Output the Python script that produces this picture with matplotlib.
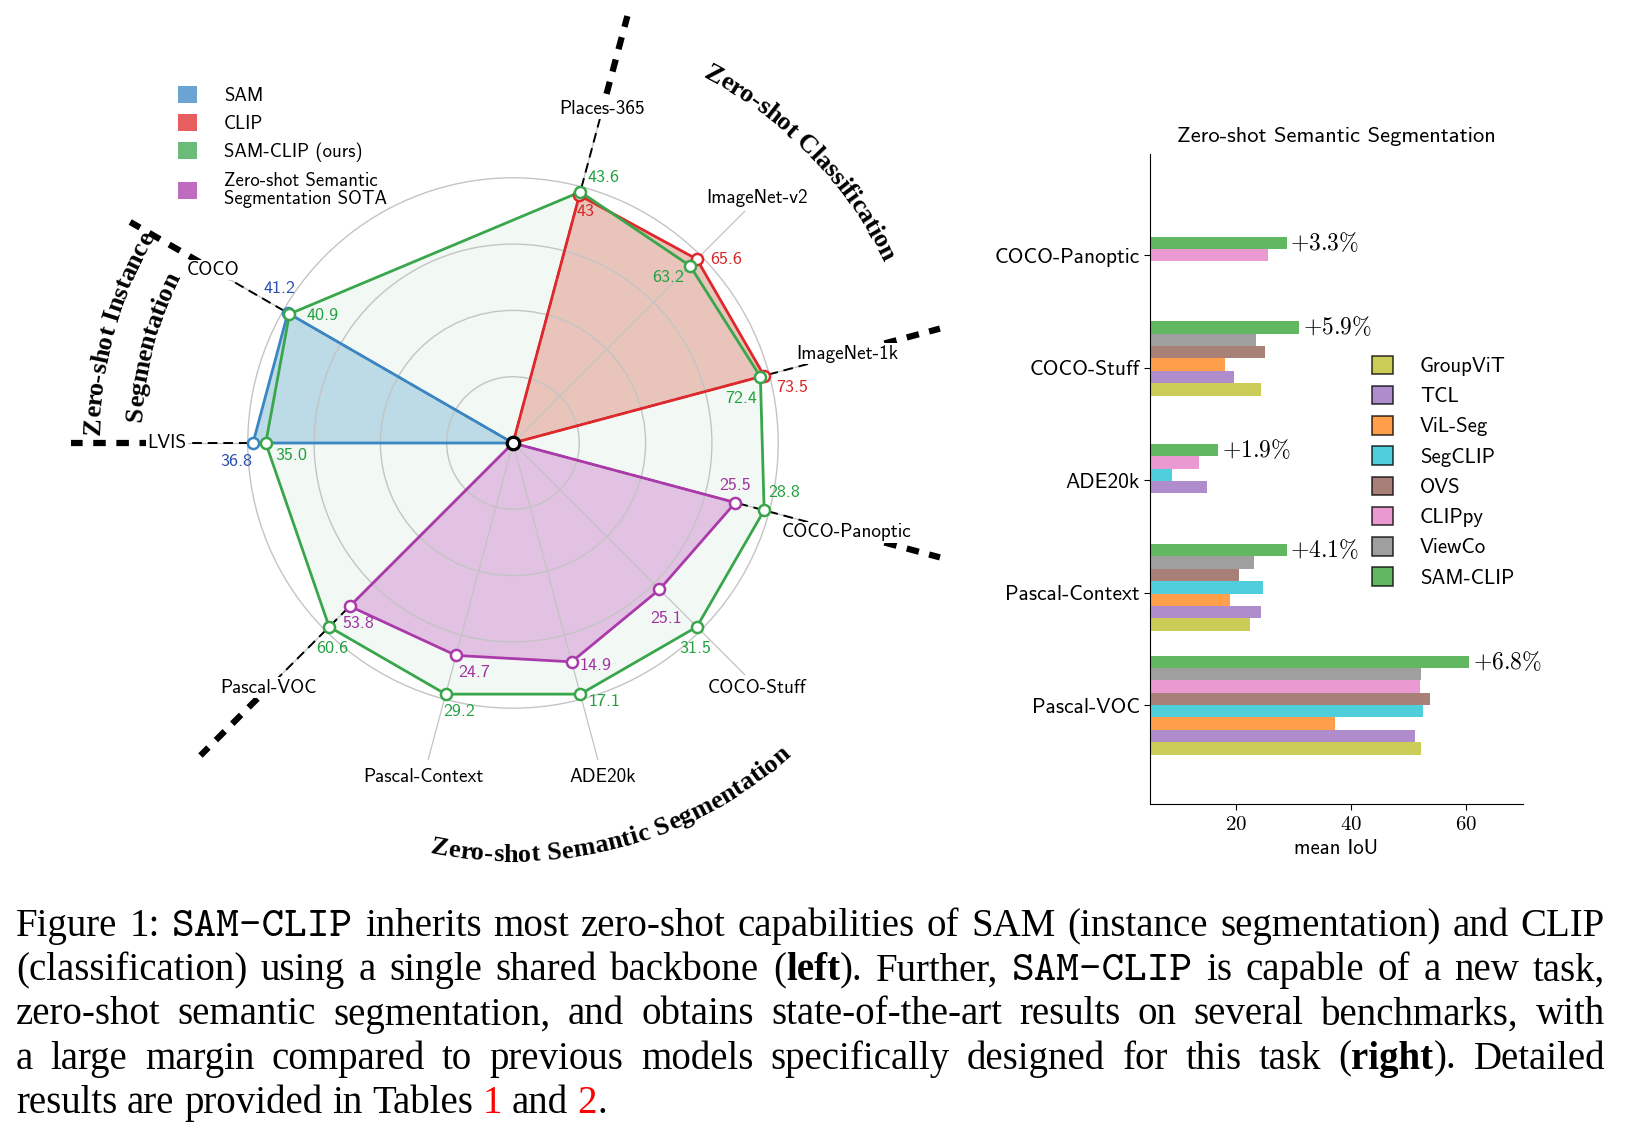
import numpy as np
import matplotlib
matplotlib.use('Agg')
import matplotlib.pyplot as plt
from matplotlib.patches import Patch, Polygon, Circle
from matplotlib.font_manager import FontProperties
from matplotlib.textpath import TextToPath
from matplotlib.transforms import IdentityTransform

plt.rcParams['mathtext.fontset'] = 'cm'
plt.rcParams['axes.unicode_minus'] = False

SANS = ['cmss10', 'DejaVu Sans']
SERIF = ['Liberation Serif', 'DejaVu Serif']
MONO = ['cmtt10', 'DejaVu Sans Mono']

W, H, DPI = 1626, 1132, 100

# ---------------- radar data ----------------
radar_labels = ['Places-365', 'ImageNet-v2', 'ImageNet-1k', 'COCO-Panoptic', 'COCO-Stuff',
                'ADE20k', 'Pascal-Context', 'Pascal-VOC', 'LVIS', 'COCO']
radar_angles = [75, 45, 15, -15, -45, -75, -105, -135, 180, 150]
sam_vals = [None, None, None, None, None, None, None, None, 36.8, 41.2]
clip_vals = [43, 65.6, 73.5, None, None, None, None, None, None, None]
samclip_vals = [43.6, 63.2, 72.4, 28.8, 31.5, 17.1, 29.2, 60.6, 35.0, 40.9]
sota_vals = [None, None, None, 25.5, 25.1, 14.9, 24.7, 53.8, None, None]
separator_axes = [0, 2, 3, 7, 8, 9]

# ---------------- bar data ----------------
bar_datasets = ['Pascal-VOC', 'Pascal-Context', 'ADE20k', 'COCO-Stuff', 'COCO-Panoptic']
bar_methods = ['GroupViT', 'TCL', 'ViL-Seg', 'SegCLIP', 'OVS', 'CLIPpy', 'ViewCo', 'SAM-CLIP']
groupvit = [52.3, 22.5, None, 24.3, None]
tcl = [51.2, 24.3, 14.9, 19.7, None]
vilseg = [37.3, 18.9, None, 18.0, None]
segclip = [52.5, 24.7, 8.8, None, None]
ovs = [53.8, 20.5, None, 25.1, None]
clippy = [52.1, None, 13.5, None, 25.5]
viewco = [52.3, 23.1, None, 23.5, None]
samclip_bar = [60.6, 28.8, 16.9, 31.0, 28.8]
gains = ['+6.8%', '+4.1%', '+1.9%', '+5.9%', '+3.3%']

fig = plt.figure(figsize=(W / DPI, H / DPI), dpi=DPI)

# ================= radar (left) =================
U = 260.0          # pixels per unit radius
cx, cy = 513, 443  # centre in pixels (from top)
px0, px1, py0, py1 = 0, 980, 0, 880
ax = fig.add_axes([px0 / W, 1 - py1 / H, (px1 - px0) / W, (py1 - py0) / H])
ax.set_xlim(-(cx - px0) / U, (px1 - cx) / U)
ax.set_ylim(-(py1 - cy) / U, (cy - py0) / U)
ax.axis('off')

th = np.radians(radar_angles)
allser = [sam_vals, clip_vals, samclip_vals, sota_vals]
vmax = [max(s[i] for s in allser if s[i] is not None) for i in range(len(radar_labels))]


def xy(i, v):
    r = v / vmax[i]
    return r * np.cos(th[i]), r * np.sin(th[i])


# grid
for rr in [0.255, 0.51, 0.765, 1.02]:
    ax.add_patch(Circle((0, 0), rr, fill=False, ec='#c4c4c4', lw=1.0, zorder=2))
for i in range(len(radar_labels)):
    ax.plot([0, 1.26 * np.cos(th[i])], [0, 1.26 * np.sin(th[i])], color='#c4c4c4', lw=0.9, zorder=2)

# group separators
for i in separator_axes:
    c, s = np.cos(th[i]), np.sin(th[i])
    ax.plot([0, 1.37 * c], [0, 1.37 * s], color='black', lw=1.4, ls=(0, (5, 3)), zorder=2.5)
    ax.plot([1.39 * c, 1.70 * c], [1.39 * s, 1.70 * s], color='black', lw=4.5,
            ls=(0, (2, 1.7)), zorder=2.5, solid_capstyle='butt', dash_capstyle='butt')

styles = {
    'samclip': dict(vals=samclip_vals, line='#3aa64c', fill='#f2f9f4', text='#22a040'),
    'sam': dict(vals=sam_vals, line='#3a86c4', fill='#bcdbe6', text='#2a4bb0'),
    'clip': dict(vals=clip_vals, line='#e0282c', fill='#e8c4bb', text='#d62728'),
    'sota': dict(vals=sota_vals, line='#aa3aaa', fill='#e2c2e2', text='#a033a0'),
}

# SAM-CLIP closed polygon
pts = [xy(i, v) for i, v in enumerate(samclip_vals)]
ax.add_patch(Polygon(pts, closed=True, fc=styles['samclip']['fill'], ec='none', zorder=1))
for key in ['sam', 'clip', 'sota']:
    st = styles[key]
    p = [(0, 0)] + [xy(i, v) for i, v in enumerate(st['vals']) if v is not None]
    ax.add_patch(Polygon(p, closed=True, fc=st['fill'], ec='none', zorder=1.5))
    pp = p + [p[0]]
    ax.plot([q[0] for q in pp], [q[1] for q in pp], color=st['line'], lw=2.0, zorder=3)
pp = pts + [pts[0]]
ax.plot([q[0] for q in pp], [q[1] for q in pp], color=styles['samclip']['line'], lw=2.0, zorder=3.5)

# value labels offsets (points)
offsets = {
    'samclip': [(17, 10), (-16, -8.5), (-14, -16), (14.5, 13), (-1.5, -15.5), (17.5, -5.5),
                (9.5, -12.5), (2.5, -15.5), (18.5, -9), (23.5, -0.8)],
    'clip': [(4.5, -11.5), (21, 0), (20.5, -8.5)],
    'sota': [(-0.5, 12), (4.5, -21), (17.5, -2.5), (13, -12), (6, -12.5)],
    'sam': [(-12, -13), (-6, 17.5)],
}
for key in ['sam', 'clip', 'sota', 'samclip']:
    st = styles[key]
    k = 0
    for i, v in enumerate(st['vals']):
        if v is None:
            continue
        x, y = xy(i, v)
        ax.plot(x, y, 'o', mfc='white', mec=st['line'], ms=8, mew=1.8, zorder=5)
        ax.annotate(str(v), (x, y), xytext=offsets[key][k], textcoords='offset points',
                    ha='center', va='center', color=st['text'], fontsize=13, family=SANS, zorder=6)
        k += 1
ax.plot(0, 0, 'o', mfc='white', mec='black', ms=9, mew=2.3, zorder=7)

# axis names
for i, name in enumerate(radar_labels):
    ax.text(1.33 * np.cos(th[i]), 1.33 * np.sin(th[i]), name, ha='center', va='center',
            fontsize=13.8, family=SANS, zorder=6,
            bbox=dict(fc='white', ec='none', pad=1.0))

# curved group titles
t2p = TextToPath()


def arc_text(s, r_base, r_mid, ang_c, fs, outward=True):
    fp = FontProperties(family='Liberation Serif', weight='bold', size=fs)

    def wid(x):
        return t2p.get_text_width_height_descent(x, fp, ismath=False)[0] * DPI / 72 / U

    total = wid(s)
    for i, ch in enumerate(s):
        if ch == ' ':
            continue
        pos = wid(s[:i + 1]) - wid(ch) / 2 - total / 2
        d = pos / r_mid
        if outward:
            a = np.radians(ang_c) - d
            rot = np.degrees(a) - 90
        else:
            a = np.radians(ang_c) + d
            rot = np.degrees(a) + 90
        ax.text(r_base * np.cos(a), r_base * np.sin(a), ch, fontproperties=fp, rotation=rot,
                rotation_mode='anchor', ha='center', va='baseline', zorder=6)


arc_text('Zero-shot Classification', 1.585, 1.62, 44.3, 19, outward=True)
arc_text('Zero-shot Semantic Segmentation', 1.61, 1.575, -74.9, 19, outward=False)
arc_text('Zero-shot Instance', 1.59, 1.625, 164.5, 19, outward=True)
arc_text('Segmentation', 1.43, 1.465, 165.1, 19, outward=True)

# legend
leg_handles = [Patch(fc=styles[k]['line'], alpha=0.75, ec='none') for k in ['sam', 'clip', 'samclip', 'sota']]
leg = ax.legend(leg_handles, ['SAM', 'CLIP', 'SAM-CLIP (ours)', 'Zero-shot Semantic\nSegmentation SOTA'],
                loc='upper left', bbox_to_anchor=(178 / 980, 1 - 86 / 880), frameon=False,
                borderpad=0, borderaxespad=0, handlelength=1.0, handleheight=1.0,
                handletextpad=1.45, labelspacing=0.5, prop=FontProperties(family=SANS, size=13.5))
for t in leg.get_texts():
    t.set_linespacing(1.0)

# ================= bars (right) =================
bx = fig.add_axes([1150 / W, 1 - 804 / H, 373 / W, 650 / H])
method_vals = [groupvit, tcl, vilseg, segclip, ovs, clippy, viewco, samclip_bar]
bar_colors = ['tab:olive', 'tab:purple', 'tab:orange', 'tab:cyan', 'tab:brown',
              'tab:pink', 'tab:gray', 'tab:green']
bh = 0.11
group_shift = [0, 0.42, 0.92, 0.75, 0.5]   # in bar heights, as laid out in the original
for g in range(len(bar_datasets)):
    present = [m for m in range(len(bar_methods)) if method_vals[m][g] is not None]
    n = len(present)
    yc = g + group_shift[g] * bh
    for k, m in enumerate(present):
        bx.barh(yc + (k - (n - 1) / 2) * bh, method_vals[m][g], height=bh,
                color=bar_colors[m], alpha=0.75, lw=0)
    bx.annotate('$' + gains[g].replace('%', r'\%') + '$',
                (samclip_bar[g], yc + (n - 1) / 2 * bh), xytext=(2.5, 0), textcoords='offset points',
                ha='left', va='center', fontsize=17)

bx.set_xlim(5, 70)
bx.set_ylim(-0.88, 4.9)
bx.set_yticks(range(len(bar_datasets)))
bx.set_yticklabels(bar_datasets, family=SANS, fontsize=15.4)
bx.set_xticks([20, 40, 60])
bx.set_xticklabels([r'$20$', r'$40$', r'$60$'], fontsize=15)
bx.spines['top'].set_visible(False)
bx.spines['right'].set_visible(False)
bx.tick_params(length=4, width=0.8)
bx.set_title('Zero-shot Semantic Segmentation', family=SANS, fontsize=16.2, pad=9)
bx.set_xlabel('mean IoU', family=SANS, fontsize=15, labelpad=3)
bar_handles = [Patch(fc=c, alpha=0.75, ec='black', lw=1.2) for c in bar_colors]
bx.legend(bar_handles, bar_methods, loc='upper left', bbox_to_anchor=(0.595, 0.69),
          frameon=False, borderpad=0, borderaxespad=0, handlelength=1.0, handleheight=1.0,
          handletextpad=1.3, labelspacing=0.47, prop=FontProperties(family=SANS, size=15))

# ================= caption =================
CAP_FS = 28
cap_styles = {
    'n': dict(family=SERIF, fontsize=CAP_FS),
    'b': dict(family=SERIF, weight='bold', fontsize=CAP_FS),
    'tt': dict(family=MONO, fontsize=31),
    'r': dict(family=SERIF, color='red', fontsize=CAP_FS),
}
cap_lines = [
    [("Figure 1: ", 'n'), ("SAM-CLIP", 'tt'),
     (" inherits most zero-shot capabilities of SAM (instance segmentation) and CLIP", 'n')],
    [("(classification) using a single shared backbone (", 'n'), ("left", 'b'), ("). Further, ", 'n'),
     ("SAM-CLIP", 'tt'), (" is capable of a new task,", 'n')],
    [("zero-shot semantic segmentation, and obtains state-of-the-art results on several benchmarks, with", 'n')],
    [("a large margin compared to previous models specifically designed for this task (", 'n'),
     ("right", 'b'), (").  Detailed", 'n')],
    [("results are provided in Tables ", 'n'), ("1", 'r'), (" and ", 'n'), ("2", 'r'), (".", 'n')],
]
renderer = fig.canvas.get_renderer()
x_left, x_right = 16, 1605
base0, lead = 936, 44.25
for li, segs in enumerate(cap_lines):
    words, cur = [], []
    for text, st in segs:
        for k, part in enumerate(text.split(' ')):
            if k > 0 and cur:
                words.append(cur)
                cur = []
            if part:
                cur.append((part, st))
    if cur:
        words.append(cur)
    items, wsum = [], 0
    for w in words:
        objs, ww = [], 0
        for part, st in w:
            t = fig.text(0, 0, part, ha='left', va='baseline',
                         transform=IdentityTransform(), **cap_styles[st])
            wd = t.get_window_extent(renderer).width
            objs.append((t, ww))
            ww += wd
        items.append((objs, ww))
        wsum += ww
    last = li == len(cap_lines) - 1
    gap = 0.25 * CAP_FS * DPI / 72 if last else (x_right - x_left - wsum) / (len(items) - 1)
    x = x_left
    ybase = H - (base0 + li * lead)
    for objs, ww in items:
        for t, off in objs:
            t.set_position((x + off, ybase))
        x += ww + gap

fig.savefig('out.png', dpi=DPI)
